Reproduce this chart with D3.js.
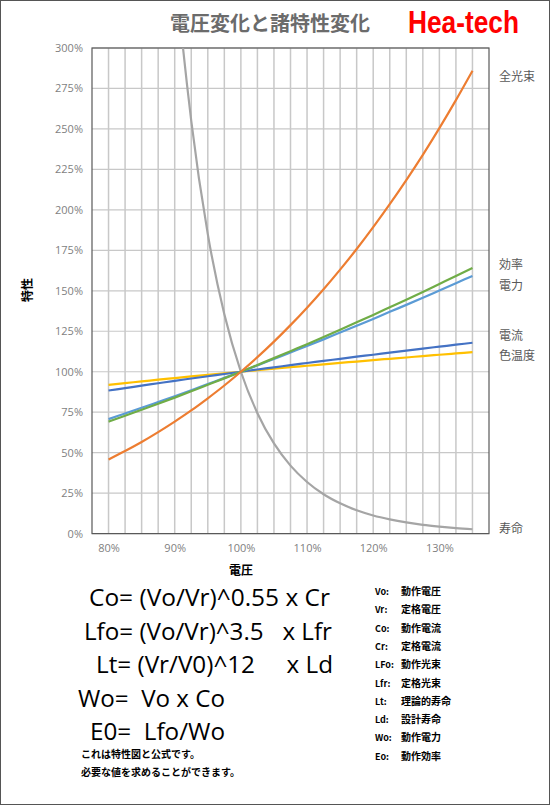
<!DOCTYPE html>
<html><head><meta charset="utf-8">
<script src="https://cdn.jsdelivr.net/npm/d3@7"></script>
<style>body{margin:0;background:#fff}svg{display:block}</style>
</head><body>
<script>
const volts = [80,82.5,85,87.5,90,92.5,95,97.5,100,102.5,105,107.5,110,112.5,115,117.5,120,122.5,125,127.5,130,132.5,135];
const flux = [45.8,51.0,56.6,62.7,69.2,76.1,83.6,91.5,100,109.0,118.6,128.8,139.6,151.0,163.1,175.8,189.3,203.5,218.4,234.0,250.5,267.8,285.9];
const life = [1455,1006,703,496,354,255,185,135.5,100,74.4,55.7,42.0,31.9,24.3,18.7,14.4,11.2,8.8,6.9,5.4,4.3,3.4,2.7];
const colorTemp = [91.9,93.0,94.0,95.1,96.1,97.1,98.1,99.0,100,100.9,101.9,102.8,103.7,104.6,105.5,106.3,107.2,108.0,108.8,109.7,110.5,111.3,112.1];
const current = [88.4,89.9,91.4,92.9,94.4,95.8,97.2,98.6,100,101.4,102.7,104.1,105.4,106.7,108.0,109.3,110.5,111.8,113.0,114.3,115.5,116.7,117.9];
const power = [70.7,74.2,77.7,81.3,84.9,88.6,92.4,96.2,100,103.9,107.9,111.9,115.9,120.0,124.2,128.4,132.6,137.0,141.3,145.7,150.2,154.7,159.2];
const efficiency = [69.2,72.8,76.5,80.2,84.0,87.9,91.9,95.9,100,104.2,108.4,112.7,117.0,121.4,125.9,130.5,135.1,139.8,144.5,149.3,154.2,159.1,164.1];
const xTicks = [80,90,100,110,120,130];
const yTicks = [0,25,50,75,100,125,150,175,200,225,250,275,300];

const series = [
  {v: life, c: '#A5A5A5'},
  {v: colorTemp, c: '#FFC000'},
  {v: current, c: '#4472C4'},
  {v: power, c: '#5B9BD5'},
  {v: efficiency, c: '#70AD47'},
  {v: flux, c: '#ED7D31'}
];
const sideLabels = [
  {t: '全光束', v: 282}, {t: '効率', v: 166}, {t: '電力', v: 153},
  {t: '電流', v: 122}, {t: '色温度', v: 110}, {t: '寿命', v: 3}
];
const formulas = [
  {t: 'Co= (Vo/Vr)^0.55 x Cr', x: 89, w: 241},
  {t: 'Lfo= (Vo/Vr)^3.5   x Lfr', x: 84, w: 248},
  {t: 'Lt= (Vr/V0)^12     x Ld', x: 96, w: 237},
  {t: 'Wo=  Vo x Co', x: 78, w: 147},
  {t: 'E0=  Lfo/Wo', x: 90, w: 135}
];
const notes = ['これは特性図と公式です。', '必要な値を求めることができます。'];
const legendKeys = ['Vo:','Vr:','Co:','Cr:','LFo:','Lfr:','Lt:','Ld:','Wo:','Eo:'];
const legendVals = ['動作電圧','定格電圧','動作電流','定格電流','動作光束','定格光束','理論的寿命','設計寿命','動作電力','動作効率'];

const W = 550, H = 805;
const m = {left: 92, right: 489, top: 48, bottom: 533.6};
const svg = d3.select('body').append('svg').attr('width', W).attr('height', H)
  .style('font-family', '"Noto Sans CJK JP", "Noto Sans", sans-serif');

svg.append('rect').attr('x', 0.5).attr('y', 0.5).attr('width', W - 1).attr('height', H - 1)
  .attr('fill', '#fff').attr('stroke', '#555');

const x = d3.scaleLinear().domain([77.5, 137.5]).range([m.left, m.right]);
const y = d3.scaleLinear().domain([0, 300]).range([m.bottom, m.top]);

// grid
svg.append('g').selectAll('line').data(volts).join('line')
  .attr('x1', d => x(d)).attr('x2', d => x(d)).attr('y1', m.top).attr('y2', m.bottom)
  .attr('stroke', '#c8c8c8').attr('stroke-width', 1.5);
svg.append('g').selectAll('line').data(yTicks).join('line')
  .attr('x1', m.left).attr('x2', m.right).attr('y1', d => y(d)).attr('y2', d => y(d))
  .attr('stroke', '#c8c8c8').attr('stroke-width', 1.2);

// axes
const yAxis = svg.append('g').attr('transform', `translate(${m.left},0)`)
  .call(d3.axisLeft(y).tickValues(yTicks).tickSize(0).tickPadding(9).tickFormat(d => d + '%'));
const xAxis = svg.append('g').attr('transform', `translate(0,${m.bottom})`)
  .call(d3.axisBottom(x).tickValues(xTicks).tickSize(0).tickPadding(11).tickFormat(d => d + '%'));
[yAxis, xAxis].forEach(a => {
  a.select('.domain').remove();
  a.selectAll('text').attr('fill', '#7f7f7f').style('font-size', '11px')
    .style('font-family', '"Open Sans", sans-serif');
});
svg.append('rect').attr('x', m.left).attr('y', m.top)
  .attr('width', m.right - m.left).attr('height', m.bottom - m.top)
  .attr('fill', 'none').attr('stroke', '#595959').attr('stroke-width', 1.2);

// lines
svg.append('clipPath').attr('id', 'clip').append('rect')
  .attr('x', m.left).attr('y', m.top).attr('width', m.right - m.left).attr('height', m.bottom - m.top);
const line = d3.line().x((d, i) => x(volts[i])).y(d => y(d)).curve(d3.curveMonotoneX);
svg.append('g').attr('clip-path', 'url(#clip)').selectAll('path').data(series).join('path')
  .attr('d', d => line(d.v)).attr('fill', 'none').attr('stroke', d => d.c).attr('stroke-width', 2.2);

svg.selectAll('.side').data(sideLabels).join('text')
  .attr('x', 499).attr('y', d => y(d.v) + 4).text(d => d.t)
  .attr('fill', '#595959').style('font-size', '12px');

// titles
svg.append('text').attr('x', 270).attr('y', 31).attr('text-anchor', 'middle')
  .attr('fill', '#6b6b6b').style('font-size', '20px').style('font-weight', 'bold').text('電圧変化と諸特性変化');
svg.append('text').attr('x', 408).attr('y', 33).attr('textLength', 111).attr('lengthAdjust', 'spacingAndGlyphs')
  .attr('fill', '#ff0000').style('font-size', '31px').style('font-weight', 'bold')
  .style('font-family', '"Liberation Sans Narrow", "Liberation Sans", sans-serif').text('Hea-tech');
svg.append('text').attr('transform', 'translate(32,290) rotate(-90)').attr('text-anchor', 'middle')
  .style('font-size', '12px').style('font-weight', 'bold').text('特性');
svg.append('text').attr('x', 241).attr('y', 575).attr('text-anchor', 'middle')
  .style('font-size', '12px').style('font-weight', 'bold').text('電圧');

// formulas
svg.selectAll('.f').data(formulas).join('text')
  .attr('x', d => d.x).attr('y', (d, i) => 606 + i * 33.5)
  .attr('textLength', d => d.w).attr('lengthAdjust', 'spacingAndGlyphs')
  .style('font-size', '23px').style('font-family', '"Open Sans", sans-serif').style('white-space', 'pre')
  .text(d => d.t);
svg.selectAll('.n').data(notes).join('text')
  .attr('x', 81).attr('y', (d, i) => 758 + i * 18)
  .style('font-size', '10px').style('font-weight', 'bold').text(d => d);
svg.selectAll('.lk').data(legendKeys).join('text')
  .attr('x', 375).attr('y', (d, i) => 595 + i * 18.3)
  .style('font-size', '9px').style('font-weight', 'bold').text(d => d);
svg.selectAll('.lv').data(legendVals).join('text')
  .attr('x', 401).attr('y', (d, i) => 595 + i * 18.3)
  .style('font-size', '10px').style('font-weight', 'bold').text(d => d);
</script>
</body></html>
